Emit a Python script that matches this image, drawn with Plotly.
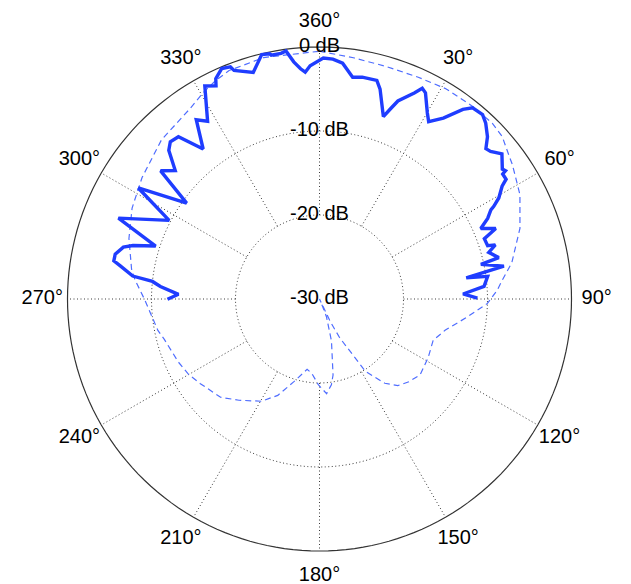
import plotly.graph_objects as go

# ---- data (angles in degrees, clockwise from top; levels in dB) ----
SOLID_THETA = [269.9, 271.9, 274.5, 276.0, 277.0, 279.4, 280.5, 282.4, 284.8, 286.0,
               287.9, 291.9, 297.6, 301.5, 305.8, 308.9, 311.7, 314.6, 316.5, 319.0,
               322.2, 325.5, 327.8, 331.7, 334.1, 334.8, 337.0, 339.0, 339.5, 343.7,
               346.7, 348.5, 348.8, 351.1, 352.3, 353.8, 355.3, 356.4, 357.7, 0.9,
               3.2, 5.6, 8.5, 10.9, 14.7, 16.1, 19.3, 20.4, 21.6, 24.7,
               26.0, 27.2, 30.1, 31.6, 34.4, 37.1, 38.7, 41.5, 43.4, 46.0,
               47.9, 49.2, 51.5, 54.6, 55.4, 55.7, 57.3, 58.3, 60.6, 62.0,
               62.5, 64.4, 66.4, 68.2, 69.9, 72.4, 72.9, 74.6, 77.0, 77.9,
               79.9, 81.8, 82.3, 85.6, 88.0, 89.7]
SOLID_DB = [-11.9, -13.2, -11.0, -10.0, -7.6, -6.0, -5.1, -5.1, -5.85, -6.9,
            -9.5, -4.2, -9.8, -4.7, -10.5, -5.7, -7.0, -4.8, -4.2, -4.4,
            -7.4, -4.1, -5.0, -1.2, -1.8, -1.0, -0.2, -0.4, -0.95, -1.9,
            -0.1, -0.2, -0.4, -0.4, -0.2, -1.6, -2.5, -2.95, -2.2, -1.3,
            -1.4, -1.8, -3.3, -3.1, -3.1, -4.0, -7.0, -5.9, -4.65, -3.0,
            -2.1, -2.4, -4.4, -5.2, -3.9, -1.7, -0.85, -0.7, -1.2, -2.2,
            -3.3, -3.1, -2.25, -3.3, -3.1, -3.6, -3.6, -4.45, -5.5, -6.5,
            -7.0, -7.8, -9.05, -7.4, -9.1, -9.0, -8.1, -9.1, -8.1, -10.35,
            -7.7, -12.35, -9.8, -10.35, -12.9, -11.2]

DASH_THETA = [0, 8, 16, 24, 31, 38.5, 44.5, 48.4, 51, 55,
              57.4, 62.5, 70.6, 79.3, 84.4, 87.1, 91.5, 97, 104, 110,
              118.4, 127, 132.8, 137.9, 142.2, 147.6, 149.2, 152.5, 154.5, 156,
              157.5, 158.7, 164.1, 169.9, 172.1, 175.7, 180.8, 185.9, 190, 197.2,
              203.4, 209.6, 218.5, 225.2, 234.6, 240.3, 245.9, 255.5, 259, 269.7,
              276, 279, 287.6, 295.9, 304.4, 315.2, 325.7, 330.6, 334.6, 338.4,
              347, 360]
DASH_DB = [-0.5, -1.0, -1.2, -1.1, -0.8, -0.7, -0.66, -0.9, -1.4, -2.0,
           -2.4, -3.1, -4.7, -6.7, -8.2, -8.8, -10.0, -12.3, -14.6, -15.6,
           -15.3, -15.0, -15.5, -16.1, -17.3, -19.8, -22.3, -24.8, -27.0, -30.0,
           -29.0, -27.7, -24.8, -20.8, -19.7, -18.7, -19.8, -21.1, -21.5, -19.7,
           -17.5, -16.0, -14.6, -13.4, -12.6, -12.0, -11.6, -10.9, -10.4, -9.2,
           -7.9, -7.35, -6.2, -5.2, -4.4, -3.3, -2.6, -1.8, -1.2, -0.75,
           -0.5, -0.5]

R_MIN, R_MAX = -30, 0
RING_LEVELS = [-20, -10]
SPOKE_ANGLES = list(range(0, 360, 30))
RADIAL_LABEL_LEVELS = [-30, -20, -10, 0]
RADIAL_LABELS = ["-30 dB", "-20 dB", "-10 dB", "0 dB"]
ANGLE_TICKS = list(range(0, 360, 30))
ANGLE_LABELS = ["360°", "30°", "60°", "90°", "120°", "150°",
                "180°", "210°", "240°", "270°", "300°", "330°"]
ANGLE_LABEL_R = R_MIN + 1.1 * (R_MAX - R_MIN)   # labels sit at 1.1 x the outer radius

FONT = dict(family="Liberation Sans, Arial, Helvetica, sans-serif", size=20, color="black")
GRID_STYLE = dict(color="#3a3a3a", width=1, dash="1px,2.5px")

fig = go.Figure()

circle_theta = list(range(0, 361, 2))

# dotted rings
for lvl in RING_LEVELS:
    fig.add_trace(go.Scatterpolar(r=[lvl] * len(circle_theta), theta=circle_theta,
                                  mode="lines", line=GRID_STYLE, hoverinfo="skip"))

# dotted spokes from the inner ring to the outer circle
sp_r, sp_t = [], []
for a in SPOKE_ANGLES:
    sp_r += [RING_LEVELS[0], R_MAX, None]
    sp_t += [a, a, None]
fig.add_trace(go.Scatterpolar(r=sp_r, theta=sp_t, mode="lines",
                              line=GRID_STYLE, hoverinfo="skip"))

# outer (0 dB) circle
fig.add_trace(go.Scatterpolar(r=[R_MAX] * len(circle_theta), theta=circle_theta,
                              mode="lines", line=dict(color="#333333", width=1.2),
                              hoverinfo="skip"))

# data
fig.add_trace(go.Scatterpolar(r=DASH_DB, theta=DASH_THETA, mode="lines",
                              line=dict(color="#4f6dff", width=1.2, dash="6px,4px")))
fig.add_trace(go.Scatterpolar(r=SOLID_DB, theta=SOLID_THETA, mode="lines",
                              line=dict(color="#1f3dff", width=3.4)))

# radial labels
fig.add_trace(go.Scatterpolar(r=RADIAL_LABEL_LEVELS, theta=[0] * len(RADIAL_LABEL_LEVELS),
                              mode="text", text=RADIAL_LABELS, textposition="middle center",
                              textfont=FONT, cliponaxis=False, hoverinfo="skip"))
# angular labels
fig.add_trace(go.Scatterpolar(r=[ANGLE_LABEL_R] * len(ANGLE_TICKS), theta=ANGLE_TICKS,
                              mode="text", text=ANGLE_LABELS, textposition="middle center",
                              textfont=FONT, cliponaxis=False, hoverinfo="skip"))

W, H = 631, 584
CX, CY, R0 = 319.5, 299, 252          # centre and 0 dB radius in pixels
R = R0 * (ANGLE_LABEL_R - R_MIN) / (R_MAX - R_MIN)
fig.update_layout(
    width=W, height=H,
    margin=dict(l=0, r=0, t=0, b=0),
    paper_bgcolor="white",
    showlegend=False,
    font=FONT,
    polar=dict(
        domain=dict(x=[(CX - R) / W, (CX + R) / W], y=[1 - (CY + R) / H, 1 - (CY - R) / H]),
        bgcolor="white",
        radialaxis=dict(range=[R_MIN, ANGLE_LABEL_R], visible=False, showgrid=False),
        angularaxis=dict(rotation=90, direction="clockwise", showgrid=False,
                         showticklabels=False, ticks="", showline=False),
    ),
)

fig.write_html("out.html")
